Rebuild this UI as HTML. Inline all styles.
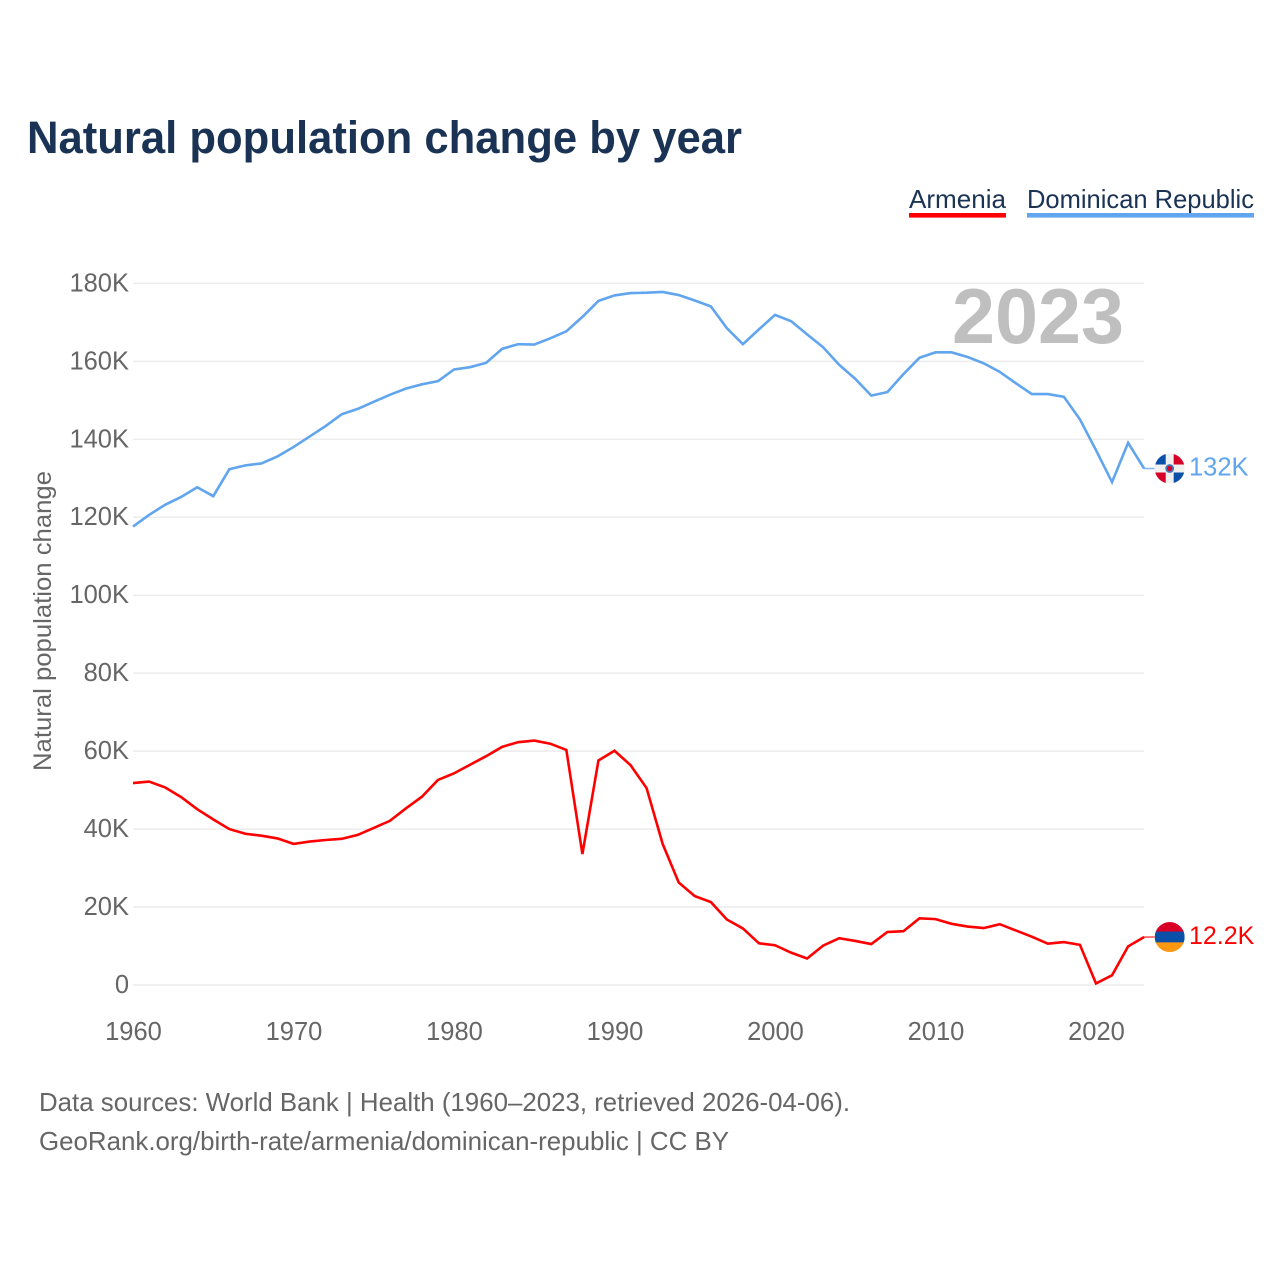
<!DOCTYPE html>
<html lang="en">
<head>
<meta charset="utf-8">
<title>Natural population change by year</title>
<style>
  html, body { margin: 0; padding: 0; background: #fff; }
  svg { display: block; }
  text { font-family: "Liberation Sans", sans-serif; }
</style>
</head>
<body>
<svg id="chart" xmlns="http://www.w3.org/2000/svg" width="1280" height="1280" viewBox="0 0 1280 1280">
  <rect width="1280" height="1280" fill="#ffffff"/>
  <text x="27" y="153" font-size="45" font-weight="700" fill="#1a3354" textLength="715" lengthAdjust="spacingAndGlyphs">Natural population change by year</text>

  <g>
    <text x="909" y="208" font-size="26" fill="#1a3354" textLength="97" lengthAdjust="spacingAndGlyphs">Armenia</text>
    <rect x="909" y="213" width="97" height="4.6" fill="#ff0000"/>
  </g>
  <g>
    <text x="1027" y="208" font-size="26" fill="#1a3354" textLength="227" lengthAdjust="spacingAndGlyphs">Dominican Republic</text>
    <rect x="1027" y="213" width="227" height="4.6" fill="#60a5ee"/>
  </g>

  <g id="grid"></g>
  <g id="yticks"></g>
  <g id="xticks"></g>

  <text transform="translate(51 621) rotate(-90)" text-anchor="middle" font-size="25" fill="#666666" textLength="300" lengthAdjust="spacingAndGlyphs">Natural population change</text>

  <text x="952" y="343" font-size="78" font-weight="700" fill="#bfbfbf" textLength="172" lengthAdjust="spacingAndGlyphs">2023</text>

  <g id="series"></g>

  <defs>
    <clipPath id="clip-do"><circle id="clip-do-circle" r="15"/></clipPath>
    <clipPath id="clip-am"><circle id="clip-am-circle" r="15"/></clipPath>
  </defs>
  <g id="flag-do" clip-path="url(#clip-do)"></g>
  <g id="flag-am" clip-path="url(#clip-am)"></g>

  <text x="39" y="1111" font-size="26" fill="#666666" textLength="811" lengthAdjust="spacingAndGlyphs">Data sources: World Bank | Health (1960–2023, retrieved 2026-04-06).</text>
  <text x="39" y="1150" font-size="26" fill="#666666" textLength="690" lengthAdjust="spacingAndGlyphs">GeoRank.org/birth-rate/armenia/dominican-republic | CC BY</text>
</svg>

<script>
const startYear = 1960;
const xTickYears = [1960, 1970, 1980, 1990, 2000, 2010, 2020];
const yTickValues = [0, 20, 40, 60, 80, 100, 120, 140, 160, 180];
const yTickLabels = ["0", "20K", "40K", "60K", "80K", "100K", "120K", "140K", "160K", "180K"];

// Natural population change, thousands, 1960-2023
const armeniaValues = [
  51.8, 52.2, 50.7, 48.2, 45.1, 42.5, 40.0, 38.8, 38.3, 37.6,
  36.2, 36.8, 37.2, 37.5, 38.5, 40.3, 42.1, 45.3, 48.3, 52.6,
  54.3, 56.5, 58.7, 61.1, 62.3, 62.7, 61.9, 60.3, 33.6, 57.6,
  60.1, 56.4, 50.5, 36.2, 26.3, 22.8, 21.3, 16.8, 14.5, 10.7,
  10.2, 8.3, 6.8, 10.1, 12.0, 11.3, 10.5, 13.6, 13.8, 17.1,
  16.9, 15.7, 15.0, 14.6, 15.6, 14.0, 12.4, 10.6, 11.0, 10.3,
  0.4, 2.5, 9.9, 12.3
];
const dominicanValues = [
  117.6, 120.6, 123.2, 125.2, 127.7, 125.4, 132.3, 133.3, 133.8, 135.6,
  138.0, 140.7, 143.4, 146.4, 147.8, 149.6, 151.4, 153.0, 154.1, 154.9,
  157.9, 158.5, 159.6, 163.2, 164.4, 164.3, 165.9, 167.7, 171.4, 175.5,
  176.9, 177.5, 177.6, 177.8, 177.0, 175.6, 174.1, 168.5, 164.4, 168.2,
  171.9, 170.3, 166.9, 163.6, 159.1, 155.5, 151.2, 152.1, 156.7, 160.9,
  162.3, 162.3, 161.1, 159.5, 157.3, 154.4, 151.6, 151.6, 150.9, 145.1,
  137.2, 129.0, 139.1, 132.5
];
const armeniaEndLabel = "12.2K";
const dominicanEndLabel = "132K";

const SVG_NS = "http://www.w3.org/2000/svg";
function xScale(year) { return 133 + (year - 1960) * 16.05; }
function yScale(v) { return 985 - v * 3.898; }

function make(tag, attrs, parent, content) {
  const el = document.createElementNS(SVG_NS, tag);
  for (const k in attrs) el.setAttribute(k, attrs[k]);
  if (content !== undefined) el.textContent = content;
  parent.appendChild(el);
  return el;
}

const gridGroup = document.getElementById("grid");
const yTickGroup = document.getElementById("yticks");
const xTickGroup = document.getElementById("xticks");
const seriesGroup = document.getElementById("series");

yTickValues.forEach(function (v, i) {
  const line = make("line", { x1: 133, x2: 1144, y1: yScale(v), y2: yScale(v), stroke: "#ececec", "stroke-width": 1.5 }, gridGroup);
  
  
  const label = make("text", { x: 129, y: yScale(v) + 8, "text-anchor": "end", "font-size": 25.5, fill: "#666666" }, yTickGroup, yTickLabels[i]);
  
  
});

xTickYears.forEach(function (year) {
  const label = make("text", { x: xScale(year) + 0.5, y: 1040, "text-anchor": "middle", "font-size": 25.5, fill: "#666666" }, xTickGroup, String(year));
  
  
});

function linePath(values) {
  return values.map(function (v, i) {
    return (i ? "L" : "M") + xScale(startYear + i).toFixed(2) + " " + yScale(v).toFixed(2);
  }).join(" ");
}

const dominicanLine = make("path", { d: linePath(dominicanValues), fill: "none", stroke: "#60a5ee", "stroke-width": 2.6, "stroke-linejoin": "miter" }, seriesGroup);



const armeniaLine = make("path", { d: linePath(armeniaValues), fill: "none", stroke: "#ff0000", "stroke-width": 2.6, "stroke-linejoin": "miter" }, seriesGroup);



const lastYear = startYear + armeniaValues.length - 1;
const endX = xScale(lastYear);
const flagX = 1169.7;
const doY = yScale(dominicanValues[dominicanValues.length - 1]);
const amY = yScale(armeniaValues[armeniaValues.length - 1]);

const doConnector = make("line", { x1: endX, x2: flagX - 15, y1: doY, y2: doY, stroke: "#60a5ee", "stroke-width": 1.5, opacity: 0.8 }, seriesGroup);


const amConnector = make("line", { x1: endX, x2: flagX - 15, y1: amY, y2: amY, stroke: "#ff0000", "stroke-width": 1.5, opacity: 0.7 }, seriesGroup);



const doLabel = make("text", { x: 1189, y: doY + 7, "font-size": 25.5, fill: "#60a5ee" }, seriesGroup, dominicanEndLabel);


const amLabel = make("text", { x: 1189, y: amY + 7, "font-size": 25, fill: "#ff0000" }, seriesGroup, armeniaEndLabel);



// Flags follow the last data point
const clipDo = document.getElementById("clip-do-circle");
clipDo.setAttribute("cx", flagX);
clipDo.setAttribute("cy", doY);
const clipAm = document.getElementById("clip-am-circle");
clipAm.setAttribute("cx", flagX);
clipAm.setAttribute("cy", amY);

const flagDo = document.getElementById("flag-do");
make("rect", { x: flagX - 15, y: doY - 15, width: 30, height: 30, fill: "#f0f0f0" }, flagDo);
make("rect", { x: flagX - 15, y: doY - 15, width: 11, height: 11, fill: "#0a4fa8" }, flagDo);
make("rect", { x: flagX + 4, y: doY - 15, width: 11, height: 11, fill: "#d80027" }, flagDo);
make("rect", { x: flagX - 15, y: doY + 4, width: 11, height: 11, fill: "#d80027" }, flagDo);
make("rect", { x: flagX + 4, y: doY + 4, width: 11, height: 11, fill: "#0a4fa8" }, flagDo);
make("circle", { cx: flagX, cy: doY, r: 4.4, fill: "#0a4fa8", opacity: 0.75 }, flagDo);
make("circle", { cx: flagX, cy: doY, r: 2.6, fill: "#d80027" }, flagDo);

const flagAm = document.getElementById("flag-am");
make("rect", { x: flagX - 15, y: amY - 15, width: 30, height: 10, fill: "#d80027" }, flagAm);
make("rect", { x: flagX - 15, y: amY - 5.5, width: 30, height: 11, fill: "#0a4fa8" }, flagAm);
make("rect", { x: flagX - 15, y: amY + 5.3, width: 30, height: 10, fill: "#ff9811" }, flagAm);
</script>
</body>
</html>
